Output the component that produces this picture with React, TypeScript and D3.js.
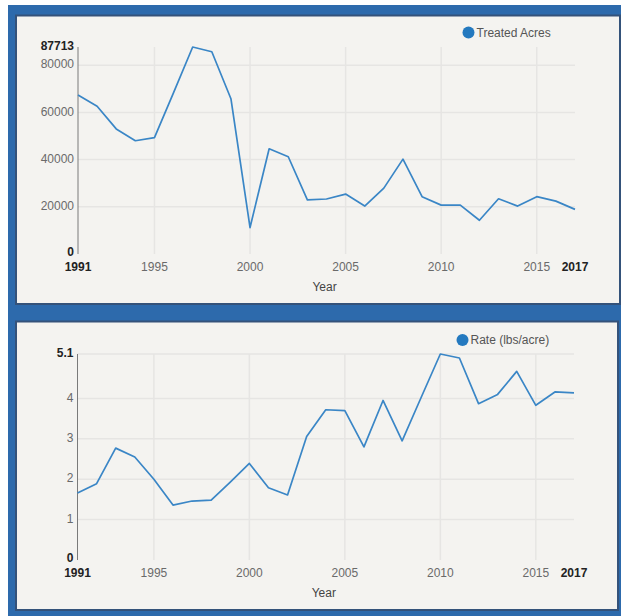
import React from "react";
import * as d3 from "d3";

const years: number[] = d3.range(1991, 2018);
const treatedAcres: number[] = [
  67400, 62600, 53000, 48000, 49300, 68400, 87713, 85700, 65800, 11200,
  44600, 41200, 22900, 23300, 25400, 20300, 27900, 40200, 24300, 20700,
  20700, 14300, 23400, 20300, 24300, 22400, 18900,
];
const rate: number[] = [
  1.66, 1.89, 2.77, 2.55, 2.0, 1.36, 1.46, 1.48, 1.93, 2.39,
  1.79, 1.61, 3.06, 3.72, 3.7, 2.8, 3.95, 2.95, 4.03, 5.1,
  5.0, 3.87, 4.1, 4.67, 3.83, 4.16, 4.14,
];
const xTicks: number[] = [1991, 1995, 2000, 2005, 2010, 2015, 2017];
const acresTicks: number[] = [0, 20000, 40000, 60000, 80000, 87713];
const rateTicks: number[] = [0, 1, 2, 3, 4, 5.1];

const FONT = "Liberation Sans, Arial, Helvetica, sans-serif";
const LINE = "#3a86c6";

type PanelProps = {
  values: number[];
  yTicks: number[];
  yMax: number;
  legend: string;
  panel: { x: number; y: number; w: number; h: number };
  x0: number;
  x1: number;
  yTop: number;
  yBottom: number;
  legendX: number;
  legendY: number;
  xLabelY: number;
  titleY: number;
  topGrid: boolean;
  fmt: (v: number) => string;
};

function Panel(p: PanelProps) {
  const x = d3.scaleLinear().domain([1991, 2017]).range([p.x0, p.x1]);
  const y = d3.scaleLinear().domain([0, p.yMax]).range([p.yBottom, p.yTop]);
  const line = d3
    .line<number>()
    .x((_, i) => x(years[i]))
    .y((d) => y(d));
  const gridYears = xTicks.filter((t) => t !== 1991 && t !== 2017);
  const gridVals = p.yTicks.filter((t) => t !== 0 && (p.topGrid || t !== p.yMax));
  return (
    <g>
      <rect
        x={p.panel.x}
        y={p.panel.y}
        width={p.panel.w}
        height={p.panel.h}
        fill="#f4f3f0"
        stroke="#34527a"
        strokeWidth={2}
      />
      {gridVals.map((t) => (
        <line
          key={"h" + t}
          x1={p.x0}
          x2={p.x1}
          y1={y(t)}
          y2={y(t)}
          stroke="#e6e5e3"
          strokeWidth={1.5}
        />
      ))}
      {gridYears.map((t) => (
        <line
          key={"v" + t}
          x1={x(t)}
          x2={x(t)}
          y1={p.yTop}
          y2={p.yBottom}
          stroke="#e6e5e3"
          strokeWidth={1.5}
        />
      ))}
      <line x1={p.x0} x2={p.x0} y1={p.yTop} y2={p.yBottom} stroke="#7a7a7a" strokeWidth={1} />
      {p.yTicks.map((t) => {
        const edge = t === 0 || t === p.yMax;
        return (
          <text
            key={"yl" + t}
            x={p.x0 - 4}
            y={y(t) - (t === 0 ? 2.5 : 1)}
            dy="0.35em"
            textAnchor="end"
            fontFamily={FONT}
            fontSize={12}
            fontWeight={edge ? "bold" : "normal"}
            fill={edge ? "#222" : "#6a6a6a"}
          >
            {p.fmt(t)}
          </text>
        );
      })}
      {xTicks.map((t) => {
        const edge = t === 1991 || t === 2017;
        return (
          <text
            key={"xl" + t}
            x={x(t)}
            y={p.xLabelY}
            textAnchor="middle"
            fontFamily={FONT}
            fontSize={12}
            fontWeight={edge ? "bold" : "normal"}
            fill={edge ? "#222" : "#6a6a6a"}
          >
            {t}
          </text>
        );
      })}
      <text
        x={(p.x0 + p.x1) / 2 - 2}
        y={p.titleY}
        textAnchor="middle"
        fontFamily={FONT}
        fontSize={12}
        fill="#444"
      >
        Year
      </text>
      <path d={line(p.values) || ""} fill="none" stroke={LINE} strokeWidth={1.7} strokeLinejoin="round" />
      <circle cx={p.legendX} cy={p.legendY} r={6} fill="#2479bf" />
      <text
        x={p.legendX + 8}
        y={p.legendY}
        dy="0.35em"
        fontFamily={FONT}
        fontSize={12}
        fill="#555"
      >
        {p.legend}
      </text>
    </g>
  );
}

export default function App() {
  return (
    <svg
      width={621}
      height={616}
      style={{ position: "absolute", left: 0, top: 0, display: "block" }}
    >
      <rect x={0} y={0} width={621} height={616} fill="#ffffff" />
      <rect x={8} y={5} width={613} height={611} fill="#2d6aac" />
      <Panel
        values={treatedAcres}
        yTicks={acresTicks}
        yMax={87713}
        legend="Treated Acres"
        panel={{ x: 16, y: 15.5, w: 604, h: 288.5 }}
        x0={78}
        x1={575}
        yTop={47}
        yBottom={254}
        legendX={468.5}
        legendY={32.5}
        xLabelY={270.5}
        titleY={291}
        topGrid={false}
        fmt={(v) => String(v)}
      />
      <Panel
        values={rate}
        yTicks={rateTicks}
        yMax={5.1}
        legend="Rate (lbs/acre)"
        panel={{ x: 16, y: 321.5, w: 602, h: 288.5 }}
        x0={77.5}
        x1={574}
        yTop={354}
        yBottom={560}
        legendX={462.5}
        legendY={340}
        xLabelY={577}
        titleY={597}
        topGrid={true}
        fmt={(v) => String(v)}
      />
    </svg>
  );
}
